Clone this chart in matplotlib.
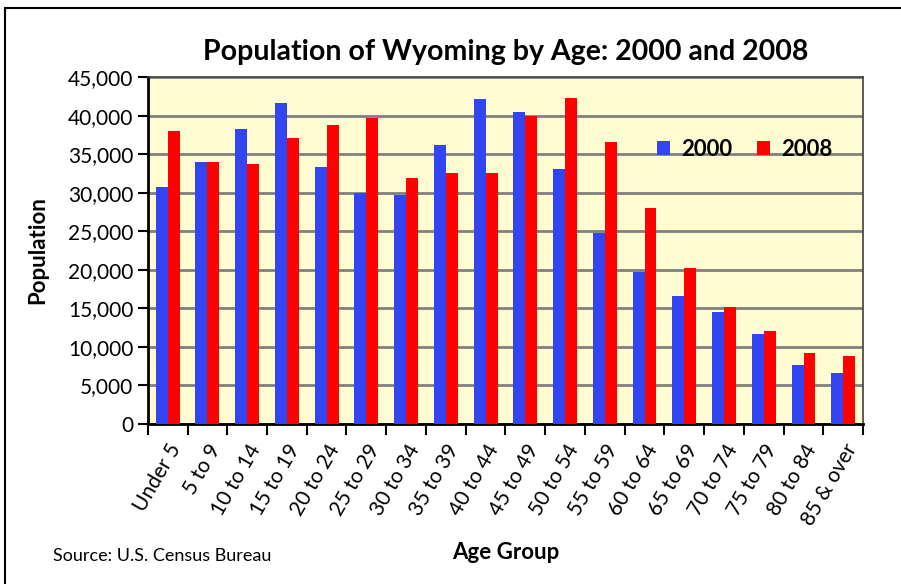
import numpy as np
import matplotlib.pyplot as plt
from matplotlib.patches import Rectangle
from matplotlib.ticker import FuncFormatter, MultipleLocator

plt.rcParams['font.family'] = ['Lato', 'DejaVu Sans']

# data
ages = ['Under 5', '5 to 9', '10 to 14', '15 to 19', '20 to 24', '25 to 29',
        '30 to 34', '35 to 39', '40 to 44', '45 to 49', '50 to 54', '55 to 59',
        '60 to 64', '65 to 69', '70 to 74', '75 to 79', '80 to 84', '85 & over']
pop_2000 = [30700, 34000, 38300, 41600, 33300, 30000, 29700, 36200, 42200,
            40500, 33100, 24800, 19700, 16600, 14500, 11700, 7700, 6600]
pop_2008 = [38000, 34000, 33700, 37100, 38800, 39700, 31900, 32500, 32500,
            40000, 42300, 36600, 28000, 20200, 15200, 12000, 9200, 8800]

fig = plt.figure(figsize=(9.01, 5.84), dpi=100)
ax = fig.add_axes([0.164, 0.274, 0.794, 0.594])

x = np.arange(len(ages))
w = 0.3
ax.bar(x - w/2, pop_2000, w, color='#3344f2', label='2000', zorder=3)
ax.bar(x + w/2, pop_2008, w, color='#ff0000', label='2008', zorder=3)

ax.set_facecolor('#fffcd2')
ax.set_xlim(-0.5, len(ages) - 0.5)
ax.set_ylim(0, 45000)
ax.yaxis.set_major_locator(MultipleLocator(5000))
ax.yaxis.set_major_formatter(FuncFormatter(lambda v, p: f'{int(v):,}'))
ax.grid(axis='y', color='#808080', linewidth=2, zorder=1)

# category boundaries as ticks
ax.set_xticks(np.arange(len(ages) + 1) - 0.5)
ax.set_xticklabels([])
ax.set_xticks(x, minor=True)
ax.set_xticklabels(ages, minor=True, rotation=60, ha='right',
                   rotation_mode='anchor', fontsize=15)
ax.tick_params(axis='x', which='minor', length=0, pad=12)
ax.tick_params(axis='x', which='major', length=8, width=1.5, direction='out')
ax.tick_params(axis='y', length=7, width=1.5, labelsize=15, direction='out')

for s in ['left', 'bottom']:
    ax.spines[s].set_linewidth(2)
for s in ['top', 'right']:
    ax.spines[s].set_linewidth(1.2)
    ax.spines[s].set_color('#404040')

ax.set_title('Population of Wyoming by Age: 2000 and 2008',
             fontsize=20.5, fontweight='bold', pad=12)
ax.set_ylabel('Population', fontsize=16, fontweight='bold', labelpad=14)
ax.set_xlabel('Age Group', fontsize=16, fontweight='bold', labelpad=9)

ax.legend(loc='upper right', bbox_to_anchor=(0.985, 0.88), ncol=2,
          frameon=False, handlelength=0.6, handleheight=0.6,
          handletextpad=0.5, columnspacing=1.1,
          prop={'size': 16, 'weight': 'bold'})

fig.text(0.059, 0.04, 'Source: U.S. Census Bureau', fontsize=13)

# outer frame
fig.patches.append(Rectangle((0.006, -0.02), 1.1, 1.006, transform=fig.transFigure,
                             fill=False, edgecolor='black', linewidth=1.5))

plt.savefig('out.png', dpi=100)
